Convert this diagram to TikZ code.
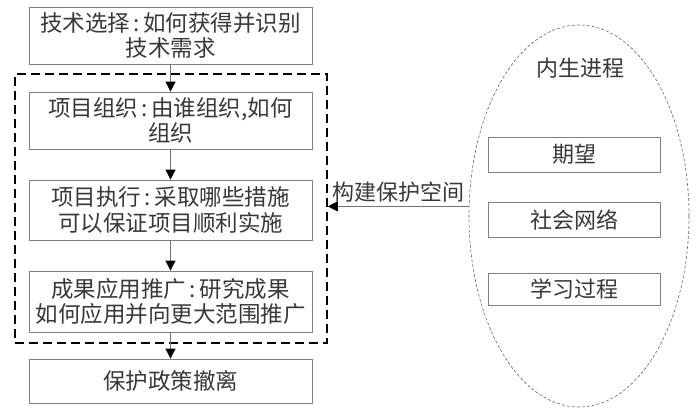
\documentclass[tikz,border=0pt]{standalone}
\usepackage{fontspec}
\setmainfont{Noto Sans CJK SC}
\usetikzlibrary{arrows.meta,shapes.geometric}
\newcommand{\cln}{\hspace{3.5pt}:\hspace{3.5pt}}
\begin{document}
\begin{tikzpicture}[x=1pt,y=-1pt,
  box/.style={draw=black!50, line width=0.8pt, minimum width=283pt, align=center,
    font=\fontsize{22.5}{25.5}\selectfont, text=black!78, inner sep=0pt},
  sbox/.style={draw=black!50, line width=0.8pt, minimum width=172pt, align=center,
    font=\fontsize{22}{25}\selectfont, text=black!78, inner sep=0pt},
  lbl/.style={font=\fontsize{22}{25}\selectfont, text=black!78, inner sep=0pt},
  arr/.style={draw=black!55, line width=0.8pt, -{Triangle[length=10pt,width=10pt,fill=black,color=black]}},
  zone/.style={draw=black, line width=1.6pt, dash pattern=on 9pt off 5pt, minimum width=312pt, minimum height=269pt, inner sep=0pt},
  cloud/.style={ellipse, draw=black!60, line width=0.6pt, dash pattern=on 3pt off 2pt, minimum width=220pt, minimum height=382pt, inner sep=0pt}
]
\useasboundingbox (0,0) rectangle (700,413);
\node[zone] (dz) at (171,208.5) {};
\node[box, minimum height=57pt] (b1) at (170.5,35.5) {技术选择\cln 如何获得并识别\\技术需求};
\node[box, minimum height=57pt] (b2) at (170.5,120.5) {项目组织\cln 由谁组织,如何\\组织};
\node[box, minimum height=60pt] (b3) at (170.5,210) {项目执行\cln 采取哪些措施\\可以保证项目顺利实施};
\node[box, minimum height=61pt] (b4) at (170.5,301.5) {成果应用推广\cln 研究成果\\如何应用并向更大范围推广};
\node[box, minimum height=44pt] (b5) at (170.5,381) {保护政策撤离};
\draw[arr] (b1) -- (b2);
\draw[arr] (b2) -- (b3);
\draw[arr] (b3) -- (b4);
\draw[arr] (b4) -- (b5);
\node[cloud] (el) at (579,216) {};
\node[lbl] (title) at (580,68) {内生进程};
\node[sbox, minimum height=35pt] (s1) at (574,154.5) {期望};
\node[sbox, minimum height=35pt] (s2) at (574,219.5) {社会网络};
\node[sbox, minimum height=32pt] (s3) at (574.5,289) {学习过程};
\draw[arr] (el.175) -- (el.175 -| dz.east) node[lbl, midway, above=4pt] (cl) {构建保护空间};
\end{tikzpicture}
\end{document}
